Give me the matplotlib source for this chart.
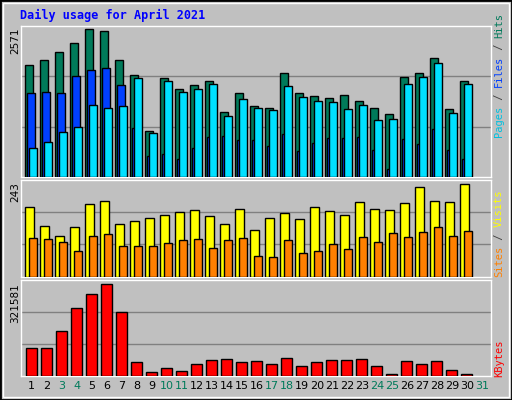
import matplotlib
matplotlib.use("Agg")
import matplotlib.pyplot as plt
from matplotlib.patches import Rectangle

# ---- data (April 2021) ----
days = list(range(1, 32))
hits = [1894, 1979, 2115, 2268, 2506, 2472, 1979, 1724, 788, 1673, 1486, 1554, 1622, 1111, 1418,
        1213, 1179, 1758, 1418, 1383, 1349, 1400, 1298, 1179, 1077, 1690, 1758, 2013, 1162, 1622]
files = [1418, 1435, 1418, 1707, 1809, 1843, 1554, 839, 363, 397, 312, 499, 686, 703, 635,
         635, 533, 737, 448, 584, 669, 669, 686, 465, 142, 652, 567, 822, 465, 312]
pages = [499, 601, 771, 856, 1230, 1179, 1213, 1673, 754, 1622, 1435, 1486, 1571, 1043, 1332,
         1179, 1145, 1537, 1366, 1298, 1281, 1162, 1230, 975, 992, 1571, 1690, 1928, 1094, 1571]
visits = [175, 127, 101, 124, 182, 190, 132, 139, 147, 154, 162, 167, 152, 132, 170,
          116, 147, 159, 144, 175, 165, 154, 187, 170, 167, 185, 225, 190, 187, 233]
sites = [96, 94, 86, 63, 101, 106, 76, 78, 78, 84, 91, 94, 73, 91, 96,
         51, 48, 91, 58, 63, 81, 68, 99, 86, 109, 99, 111, 124, 101, 114]
kbytes = [92168, 92168, 149492, 227048, 274256, 307976, 213560, 48332, 14612, 28100, 17984,
          41588, 55076, 58448, 48332, 51704, 41588, 61820, 34844, 48332, 55076, 55076, 58448,
          34844, 7868, 51704, 41588, 51704, 21356, 7868]
weekend = [3, 4, 10, 11, 17, 18, 24, 25, 31]
max_hits, max_visits, max_kb = 2571, 243, 321581

W, H = 512, 400
BG = "#c0c0c0"
mono = "DejaVu Sans Mono"

fig = plt.figure(figsize=(W / 100, H / 100), dpi=100, facecolor=BG)
# outer bevel
fig.patches.append(Rectangle((0, 0), 1, 1, transform=fig.transFigure, fill=False,
                             edgecolor="black", linewidth=2))
fig.patches.append(Rectangle((3 / W, 3 / H), 1 - 6 / W, 1 - 6 / H, transform=fig.transFigure,
                             fill=False, edgecolor="white", linewidth=1))


def make_ax(top, bottom):
    ax = fig.add_axes([21 / W, 1 - bottom / H, 470 / W, (bottom - top) / H])
    ax.set_facecolor(BG)
    ax.set_xlim(0, 31.33)
    ax.set_xticks([])
    ax.set_yticks([])
    for s in ax.spines.values():
        s.set_color("white")
        s.set_linewidth(1)
    return ax


def bars(ax, vals, off, w, color):
    x = [d - 1 + off for d in days[:len(vals)]]
    ax.bar(x, vals, width=w, align="edge", color=color, edgecolor="black", linewidth=1, zorder=3)


# top panel
ax1 = make_ax(25.5, 177)
ax1.set_ylim(0, max_hits)
for g in (1 / 3, 2 / 3):
    ax1.axhline(max_hits * g, color="#808080", linewidth=1, zorder=1)
bars(ax1, hits, 0.29, 0.5, "#007a5a")
bars(ax1, files, 0.42, 0.5, "#0040ff")
bars(ax1, pages, 0.55, 0.5, "#00e0ff")

# middle panel
ax2 = make_ax(180, 276.5)
ax2.set_ylim(0, max_visits)
for g in (1 / 3, 2 / 3):
    ax2.axhline(max_visits * g, color="#808080", linewidth=1, zorder=1)
bars(ax2, visits, 0.29, 0.56, "#ffff00")
bars(ax2, sites, 0.56, 0.5, "#ff8000")

# bottom panel
ax3 = make_ax(280, 376)
ax3.set_ylim(0, max_kb)
for g in (1 / 3, 2 / 3):
    ax3.axhline(max_kb * g, color="#808080", linewidth=1, zorder=1)
bars(ax3, kbytes, 0.35, 0.69, "#ff0000")

# x labels
for d in days:
    ax3.text(d - 1 + 0.72, -0.1, str(d), transform=ax3.get_xaxis_transform(), ha="center",
             va="center", fontsize=8, color="#007a5a" if d in weekend else "black")

# title
fig.text(20 / W, 1 - 15 / H, "Daily usage for April 2021", color="#0000ff", fontsize=8.5,
         fontweight="bold", family=mono, va="center")

# left max labels
for ytop, lab in ((28, str(max_hits)), (182, str(max_visits)), (283, str(max_kb))):
    fig.text(15 / W, 1 - ytop / H, lab, rotation=90, fontsize=7.5, ha="center", va="top")


# right vertical legends (bottom to top)
def vlegend(ybottom, parts):
    y = ybottom
    for txt, col in parts:
        t = fig.text(499 / W, 1 - y / H, txt, rotation=90, color=col, fontsize=7.5, family=mono,
                     ha="center", va="bottom")
        y -= 6.2 * len(txt)


vlegend(137, [("Pages", "#00c0e0"), (" / ", "#404040"), ("Files", "#0040ff"),
              (" / ", "#404040"), ("Hits", "#007a5a")])
vlegend(277, [("Sites", "#ff8000"), (" / ", "#404040"), ("Visits", "#ffff00")])
vlegend(377, [("KBytes", "#ff0000")])

fig.savefig("out.png", dpi=100, facecolor=BG)
